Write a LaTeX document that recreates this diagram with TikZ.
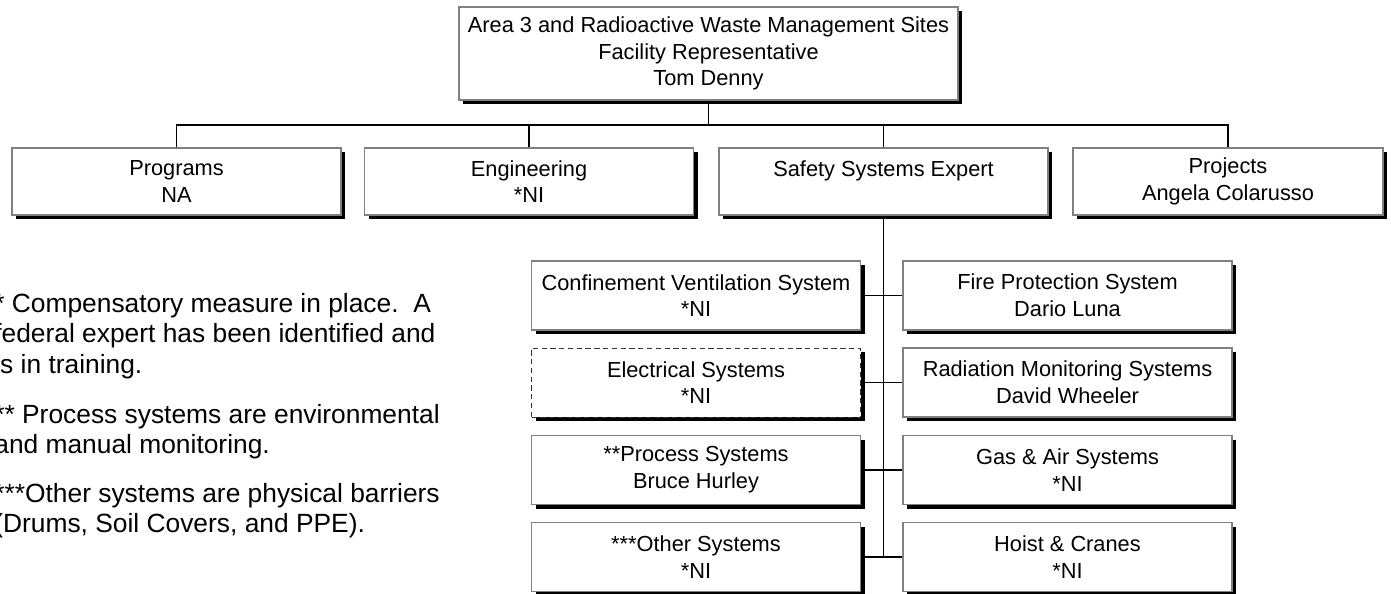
\documentclass[tikz,border=0pt]{standalone}
\usepackage{fontspec}
\setmainfont{Liberation Sans}
\usepackage{tikz}
\usetikzlibrary{shapes,arrows,positioning,shadows}

\begin{document}
\begin{tikzpicture}[node distance=2cm, auto]
    \tikzstyle{block} = [rectangle, draw=black!50, line width=0.6pt, fill=white,
        align=center, minimum width=6.58cm, minimum height=1.34cm,
        inner sep=0pt, font=\fontsize{12.4}{15.2}\selectfont,
        drop shadow={shadow xshift=0.08cm, shadow yshift=-0.08cm, fill=black, opacity=1}]
    \tikzstyle{sub} = [block, minimum height=1.38cm]
    \tikzstyle{line} = [draw, line width=1pt]
    \tikzstyle{note} = [anchor=north west, align=left, inner sep=0pt,
        font=\fontsize{15}{17.3}\selectfont]

    \useasboundingbox (0,0) rectangle (27.82,-11.86);

    % representative and the four groups
    \node [block, minimum width=9.98cm, minimum height=1.86cm] (rep) at (14.17,-1.07)
        {Area 3 and Radioactive Waste Management Sites\\Facility Representative\\Tom Denny};
    \node [block] (safety) at (17.67,-3.63) {Safety Systems Expert\\~};
    \node [block, left of=safety, node distance=7.09cm] (engineering) {Engineering\\{}*NI};
    \node [block, left of=engineering, node distance=7.05cm] (programs) {Programs\\NA};
    \node [block, right of=safety, node distance=6.89cm, minimum width=6.2cm] (projects)
        {Projects\\Angela Colarusso};
    \coordinate [below of=rep, node distance=1.43cm] (bus);

    % safety systems
    \node [sub] (conf) at (13.92,-5.91) {Confinement Ventilation System\\{}*NI};
    \node [sub, right of=conf, node distance=7.43cm] (fire) {Fire Protection System\\Dario Luna};
    \node [sub, below of=conf, node distance=1.74cm, draw=black!80, densely dashed, line width=0.4pt] (elec)
        {Electrical Systems\\{}*NI};
    \node [sub, right of=elec, node distance=7.43cm] (radiation) {Radiation Monitoring Systems\\David Wheeler};
    \node [sub, below of=elec, node distance=1.75cm] (process) {**Process Systems\\Bruce Hurley};
    \node [sub, right of=process, node distance=7.43cm] (gas) {Gas \& Air Systems\\{}*NI};
    \node [sub, below of=process, node distance=1.74cm] (other) {***Other Systems\\{}*NI};
    \node [sub, right of=other, node distance=7.43cm] (hoist) {Hoist \& Cranes\\{}*NI};

    \path [line] (rep) -- (bus);
    \path [line] (programs) |- (bus) -| (projects);
    \path [line] (engineering) -- (engineering |- bus);
    \path [line] (safety) -- (safety |- bus);
    \path [line] (safety) -- (safety |- other);
    \path [line] (conf) -- (fire);
    \path [line] (elec) -- (radiation);
    \path [line] (process) -- (gas);
    \path [line] (other) -- (hoist);

    % notes
    \node [note] (note1) at (-0.12,-5.86)
        {* Compensatory measure in place.\ \ A\\federal expert has been identified and\\is in training.};
    \node [note] (note2) at (-0.12,-8.08)
        {** Process systems are environmental\\and manual monitoring.};
    \node [note] (note3) at (-0.12,-9.66)
        {***Other systems are physical barriers\\(Drums, Soil Covers, and PPE).};
\end{tikzpicture}
\end{document}
